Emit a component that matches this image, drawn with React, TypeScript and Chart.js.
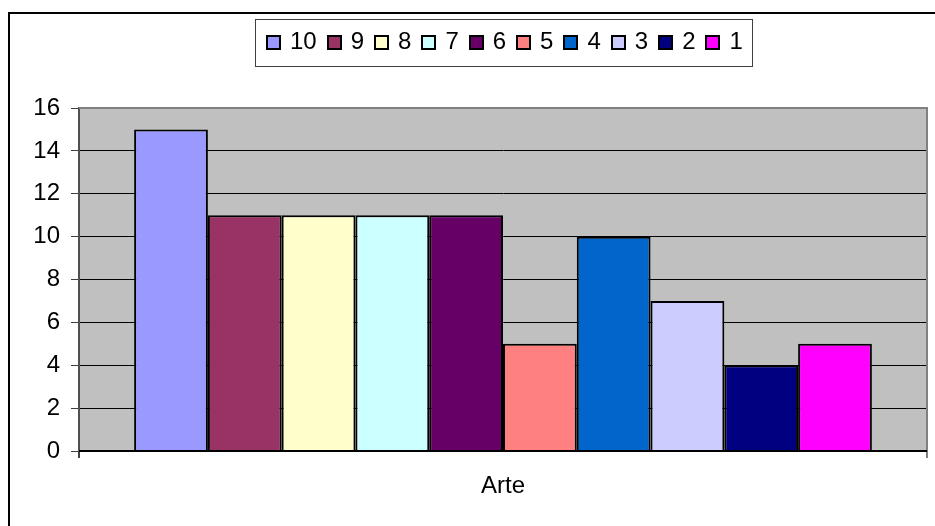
import React, { useEffect, useRef } from "react";
import { Chart, registerables } from "chart.js";

Chart.register(...registerables);

const categories = ["Arte"];
const seriesNames = ["10", "9", "8", "7", "6", "5", "4", "3", "2", "1"];
const seriesValues = [15, 11, 11, 11, 11, 5, 10, 7, 4, 5];
const seriesColors = [
  "#9999FF",
  "#993366",
  "#FFFFCC",
  "#CCFFFF",
  "#660066",
  "#FF8080",
  "#0066CC",
  "#CCCCFF",
  "#000080",
  "#FF00FF",
];
const yTicks = [0, 2, 4, 6, 8, 10, 12, 14, 16];

const FONT = "Arial, 'Liberation Sans', sans-serif";
const FONT_SIZE = 24;

const plotBgPlugin = {
  id: "plotBg",
  beforeDraw(chart: any) {
    const { ctx, chartArea } = chart;
    ctx.save();
    ctx.fillStyle = "#C0C0C0";
    ctx.fillRect(chartArea.left, chartArea.top, chartArea.right - chartArea.left, chartArea.bottom - chartArea.top);
    ctx.restore();
  },
  afterDatasetsDraw(chart: any) {
    const { ctx, chartArea } = chart;
    ctx.save();
    ctx.strokeStyle = "#808080";
    ctx.lineWidth = 2;
    ctx.beginPath();
    ctx.moveTo(chartArea.left, chartArea.top);
    ctx.lineTo(chartArea.right, chartArea.top);
    ctx.lineTo(chartArea.right, chartArea.bottom + 7);
    ctx.stroke();
    ctx.strokeStyle = "#000000";
    ctx.beginPath();
    ctx.moveTo(chartArea.left, chartArea.bottom);
    ctx.lineTo(chartArea.right, chartArea.bottom);
    ctx.stroke();
    ctx.restore();
  },
};

const legendPlugin = {
  id: "boxLegend",
  afterDraw(chart: any) {
    const { ctx, chartArea } = chart;
    const datasets = chart.data.datasets;
    ctx.save();
    ctx.font = `${FONT_SIZE}px ${FONT}`;
    const marker = 15;
    const gapText = 9;
    const gapItem = 10;
    const padX = 10;
    const widths = datasets.map((d: any) => marker + gapText + ctx.measureText(d.label).width);
    const inner = widths.reduce((a: number, b: number) => a + b, 0) + gapItem * (datasets.length - 1);
    const boxW = Math.round(inner + padX * 2);
    const cx = (chartArea.left + chartArea.right) / 2;
    const boxX = Math.round(cx - boxW / 2) + 0.5;
    const boxY = 19.5;
    const boxH = 47;
    ctx.fillStyle = "#FFFFFF";
    ctx.fillRect(boxX, boxY, boxW, boxH);
    ctx.strokeStyle = "#404040";
    ctx.lineWidth = 1;
    ctx.strokeRect(boxX, boxY, boxW, boxH);
    let x = Math.round(boxX + padX);
    const cy = 42.5;
    datasets.forEach((d: any, i: number) => {
      const mx = Math.round(x);
      ctx.fillStyle = d.backgroundColor;
      ctx.fillRect(mx, 35, marker, marker);
      ctx.strokeStyle = "#000000";
      ctx.lineWidth = 2;
      ctx.strokeRect(mx + 1, 36, marker - 2, marker - 2);
      ctx.fillStyle = "#000000";
      ctx.textBaseline = "middle";
      ctx.textAlign = "left";
      ctx.fillText(d.label, x + marker + gapText, cy);
      x += widths[i] + gapItem;
    });
    ctx.restore();
  },
};

export default function App() {
  const ref = useRef<HTMLCanvasElement | null>(null);

  useEffect(() => {
    if (!ref.current) return;
    const chart = new Chart(ref.current, {
      type: "bar",
      data: {
        labels: categories,
        datasets: seriesNames.map((name, i) => ({
          label: name,
          data: [seriesValues[i]],
          backgroundColor: seriesColors[i],
          borderColor: "#000000",
          borderWidth: 2,
          categoryPercentage: 0.87,
          barPercentage: 1.0,
        })),
      },
      options: {
        animation: false,
        responsive: false,
        devicePixelRatio: 1,
        layout: { padding: { top: 108, right: 8, left: 0, bottom: 0 } },
        plugins: {
          legend: { display: false },
          tooltip: { enabled: false },
          title: { display: false },
        },
        scales: {
          x: {
            offset: true,
            grid: {
              offset: true,
              drawOnChartArea: false,
              drawTicks: true,
              tickLength: 7,
              color: "#404040",
              lineWidth: 2,
            },
            border: { display: false },
            ticks: {
              color: "#000000",
              font: { family: FONT, size: FONT_SIZE },
              padding: 14,
            },
            afterFit(scale: any) {
              scale.height = 75;
            },
          },
          y: {
            min: 0,
            max: 16,
            afterBuildTicks(scale: any) {
              scale.ticks = yTicks.map((v) => ({ value: v }));
            },
            grid: {
              color: (c: any) => (c.tick && c.tick.value === 16 ? "#808080" : "#000000"),
              lineWidth: 1,
              drawTicks: true,
              tickLength: 8,
              tickColor: "#404040",
            },
            border: { display: true, color: "#505050", width: 2 },
            ticks: {
              color: "#000000",
              font: { family: FONT, size: FONT_SIZE },
              padding: 11,
            },
            afterFit(scale: any) {
              scale.width = 79;
            },
          },
        },
      },
      plugins: [plotBgPlugin, legendPlugin],
    });
    return () => chart.destroy();
  }, []);

  return (
    <div
      style={{
        position: "fixed",
        left: 0,
        top: 0,
        width: 935,
        height: 526,
        overflow: "hidden",
        background: "#FFFFFF",
      }}
    >
      <canvas ref={ref} width={935} height={526} style={{ position: "absolute", left: 0, top: 0 }} />
      <div
        style={{
          position: "absolute",
          left: 8,
          top: 12,
          width: 1200,
          height: 1200,
          border: "2px solid #000000",
          boxSizing: "border-box",
          pointerEvents: "none",
        }}
      />
    </div>
  );
}
